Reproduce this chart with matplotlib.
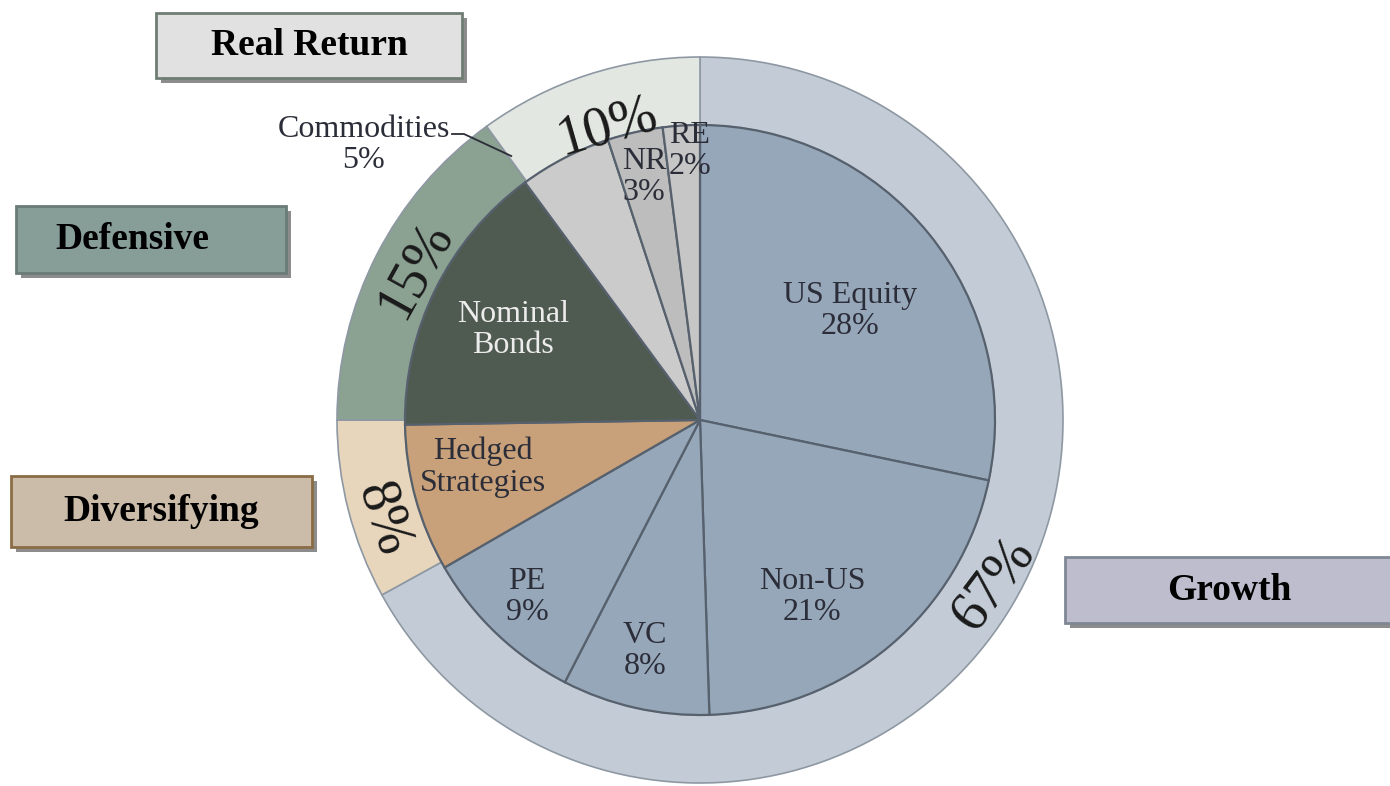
import matplotlib.pyplot as plt
import numpy as np

# outer ring: asset class groups
groups = ['Growth', 'Diversifying', 'Defensive', 'Real Return']
group_pct = [67, 8, 15, 10]
group_colors = ['#c3ccd6', '#e7d5bc', '#8ba192', '#e3e7e1']

# inner pie: asset classes
assets = ['US Equity', 'Non-US', 'VC', 'PE', 'Hedged\nStrategies',
          'Nominal\nBonds', 'Commodities', 'NR', 'RE']
asset_pct = [28, 21, 8, 9, 8, 15, 5, 3, 2]
asset_colors = ['#97a7ba', '#97a7ba', '#97a7ba', '#97a7ba', '#c8a079',
                '#4f5a50', '#cbcbcb', '#bdbdbd', '#c6c6c6']

W, H = 1390, 786
plt.rcParams['font.family'] = ['Liberation Serif', 'DejaVu Serif']

fig = plt.figure(figsize=(W / 100, H / 100), dpi=100)
ax = fig.add_axes([0, 0, 1, 1])

def Y(y):
    # picture rows -> axes y
    return H - y

cx, cy = 700, Y(420)
r_out, r_in = 363, 295

ax.pie(group_pct, colors=group_colors, startangle=90, counterclock=False,
       radius=r_out, center=(cx, cy), frame=True,
       wedgeprops=dict(width=r_out - r_in, edgecolor='#8e98a3', linewidth=1.2))
wedges, _ = ax.pie(asset_pct, colors=asset_colors, startangle=90, counterclock=False,
                   radius=r_in, center=(cx, cy), frame=True,
                   wedgeprops=dict(edgecolor='#56616d', linewidth=1.6))
ax.set_xlim(0, W)
ax.set_ylim(0, H)
ax.set_aspect('equal')
ax.axis('off')

# group percentages along the ring
for txt, (x, y, rot) in zip([f'{p}%' for p in group_pct],
                            [(994, 584, 53), (383, 520, -72), (415, 270, 61), (607, 127, 16)]):
    ax.text(x, Y(y), txt, fontsize=40, rotation=rot, ha='center', va='center',
            color='#1a1a1a', rotation_mode='anchor')

# asset labels
lbl_pos = {'US Equity': (850, 311), 'Non-US': (812, 597), 'VC': (645, 651),
           'PE': (527, 597), 'Hedged\nStrategies': (483, 467),
           'Nominal\nBonds': (513, 330), 'NR': (644, 177), 'RE': (690, 151)}
for name, pct in zip(assets, asset_pct):
    if name not in lbl_pos:
        continue
    x, y = lbl_pos[name]
    s = name if '\n' in name else f'{name}\n{pct}%'
    col = '#ececec' if name.startswith('Nominal') else '#2b2d38'
    ax.text(x, Y(y), s, fontsize=23, ha='center', va='center', color=col,
            linespacing=1.12)

# commodities label with leader line to its wedge
cw = wedges[assets.index('Commodities')]
ang = np.deg2rad(cw.theta2 - 0.8)
ex, ey = cx + r_in * 1.1 * np.cos(ang), cy + r_in * 1.1 * np.sin(ang)
ax.text(364, Y(145), f'Commodities\n{asset_pct[6]}%', fontsize=23, ha='center',
        va='center', color='#2b2d38', linespacing=1.12)
ax.plot([452, 464, ex], [Y(134), Y(134), ey], color='#2b2d38', lw=1.3)

# group boxes with drop shadow
boxes = {
    'Real Return': ((156, 13, 462, 78), '#e1e1e1', '#6f7d74', 309),
    'Defensive': ((16, 206, 286, 273), '#879d98', '#6a7c78', 132),
    'Diversifying': ((11, 476, 312, 547), '#cbbba9', '#8a6c45', 161),
    'Growth': ((1065, 557, 1400, 623), '#bdbdcd', '#7f8794', 1229),
}
for name, ((x0, y0, x1, y1), fc, ec, tx) in boxes.items():
    ax.add_patch(plt.Rectangle((x0 + 5, Y(y1 + 5)), x1 - x0, y1 - y0,
                               facecolor='#8c8c8c', edgecolor='none', zorder=5))
    ax.add_patch(plt.Rectangle((x0, Y(y1)), x1 - x0, y1 - y0,
                               facecolor=fc, edgecolor=ec, lw=2, zorder=6))
    ax.text(tx, Y((y0 + y1) / 2), name, fontsize=27, fontweight='bold',
            ha='center', va='center', color='black', zorder=7)

fig.savefig('out.png', dpi=100)
